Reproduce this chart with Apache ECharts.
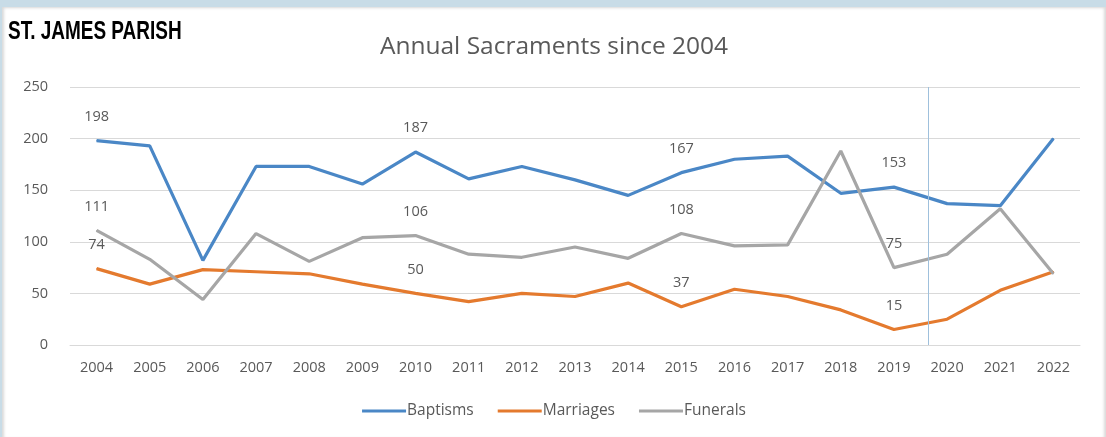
<!DOCTYPE html>
<html><head><meta charset="utf-8">
<script src="https://cdn.jsdelivr.net/npm/echarts@6/dist/echarts.min.js"></script>
<style>
html,body{margin:0;padding:0;width:1106px;height:437px;background:#c8dce7;overflow:hidden}
#wrap{position:absolute;left:2px;top:7px;width:1104px;height:430px;background:#fff;box-shadow:inset 4px 0 3px -2px #d9d9d9, inset -4px 0 3px -2px #d9d9d9, inset 0 3px 3px -2px #d9d9d9}
#c{width:1104px;height:430px}
</style></head><body>
<div id="wrap"><div id="c"></div></div>
<script>
const years = ['2004','2005','2006','2007','2008','2009','2010','2011','2012','2013','2014','2015','2016','2017','2018','2019','2020','2021','2022'];
const baptisms = [198,193,82,173,173,156,187,161,173,160,145,167,180,183,147,153,137,135,200];
const marriages = [74,59,73,71,69,59,50,42,50,47,60,37,54,47,34,15,25,53,71];
const funerals = [111,83,44,108,81,104,106,88,85,95,84,108,96,97,188,75,88,132,69];
const labelledYears = ['2004','2010','2015','2019'];
const dividerYear = 2019.65;
const yTicks = [0,50,100,150,200,250];

const txt = '#595959';
const FONT = 'Open Sans';
function withLabels(arr){
  return arr.map((v,i)=>({value:v,label:{show:labelledYears.includes(years[i])}}));
}
const lblStyle = {show:false,position:'top',distance:16,color:txt,fontSize:14.5,fontFamily:FONT};
function lineSeries(name,data,color){
  return {name,type:'line',data:withLabels(data),symbol:'circle',symbolSize:1,showSymbol:true,
    lineStyle:{width:3.2,color},itemStyle:{color},label:lblStyle,labelLayout:{hideOverlap:false}};
}
const chart = echarts.init(document.getElementById('c'));
chart.setOption({
  animation:false,
  title:[
    {text:'Annual Sacraments since 2004',left:'center',top:23,textStyle:{fontFamily:FONT,fontWeight:'normal',fontSize:24.5,color:txt}}
  ],
  graphic:[
    {type:'text',x:6,y:12,scaleX:0.73,scaleY:1,originX:0,originY:0,
     style:{text:'ST. JAMES PARISH',fill:'#000',font:'bold 26px "Liberation Sans", Arial, sans-serif',textVerticalAlign:'top'}}
  ],
  legend:{bottom:13,left:'center',itemWidth:44,itemHeight:3,itemGap:24,icon:'rect',
    textStyle:{color:txt,fontSize:15.5,fontFamily:FONT,padding:[0,0,0,-4]},
    data:['Baptisms','Marriages','Funerals']},
  grid:{left:68,right:26,top:80,bottom:92},
  xAxis:[
    {type:'category',data:years,boundaryGap:true,axisLine:{show:true,lineStyle:{color:'#d9d9d9'}},axisTick:{show:false},
     axisLabel:{color:txt,fontSize:14.5,fontFamily:FONT,margin:15}},
    {type:'value',min:2003.5,max:2022.5,show:false}
  ],
  yAxis:{type:'value',min:0,max:250,interval:50,axisLine:{show:false},axisTick:{show:false},
    axisLabel:{color:txt,fontSize:14.5,fontFamily:FONT,margin:22,formatter:v=>yTicks.includes(v)?String(v):''},
    splitLine:{lineStyle:{color:'#d9d9d9',width:1}}},
  series:[
    lineSeries('Baptisms',baptisms,'#4a87c6'),
    lineSeries('Marriages',marriages,'#e47a2e'),
    lineSeries('Funerals',funerals,'#a6a6a6'),
    {type:'line',xAxisIndex:1,data:[],markLine:{silent:true,symbol:'none',label:{show:false},
      lineStyle:{color:'#9fc0dc',type:'solid',width:1},data:[{xAxis:dividerYear}]}}
  ]
});
</script></body></html>
